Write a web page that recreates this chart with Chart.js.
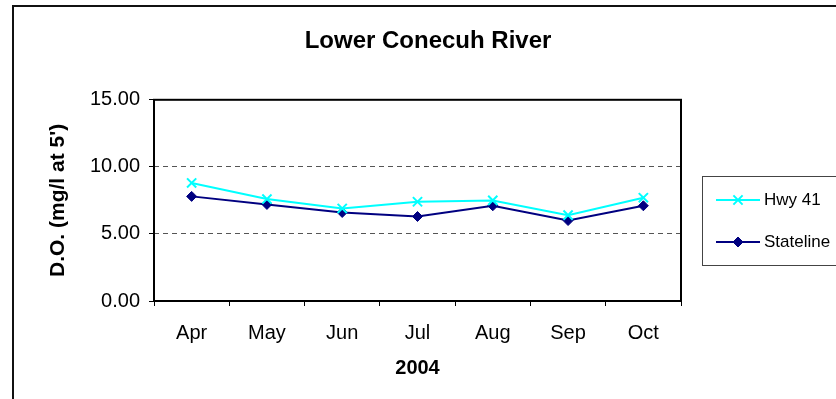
<!DOCTYPE html>
<html>
<head>
<meta charset="utf-8">
<title>Lower Conecuh River</title>
<script src="https://cdn.jsdelivr.net/npm/chart.js@4.4.1/dist/chart.umd.min.js"></script>
<style>
  html, body { margin: 0; padding: 0; background: #fff; }
  #wrap { width: 836px; height: 399px; position: relative; }
</style>
</head>
<body>
<div id="wrap"><canvas id="c" width="836" height="399"></canvas></div>
<script>
// Dissolved oxygen at 5 ft depth, 2004 sampling season
const months = ['Apr', 'May', 'Jun', 'Jul', 'Aug', 'Sep', 'Oct'];
const hwy41 = [8.8, 7.6, 6.9, 7.4, 7.5, 6.4, 7.7];
const stateline = [7.8, 7.2, 6.6, 6.3, 7.1, 6.0, 7.1];
const seriesNames = ['Hwy 41', 'Stateline'];
const yTickValues = [0, 5, 10, 15];

const FONT = "'Liberation Sans', Arial, sans-serif";

// Outer frame, plot frame and the boxed legend
const decorations = {
  id: 'decorations',
  beforeDatasetsDraw(chart) {
    const { ctx, chartArea: a } = chart;
    ctx.save();
    ctx.strokeStyle = '#000';
    ctx.lineWidth = 2;
    ctx.strokeRect(a.left, a.top, a.right - a.left, a.bottom - a.top);
    ctx.restore();
  },
  afterDraw(chart) {
    const { ctx } = chart;
    ctx.save();
    // outer chart border
    ctx.strokeStyle = '#111';
    ctx.lineWidth = 2;
    ctx.strokeRect(13, 6, 900, 500);

    // legend box
    ctx.strokeStyle = '#444';
    ctx.lineWidth = 1;
    ctx.strokeRect(702.5, 176.5, 200, 89);

    const rows = [200, 242];
    chart.data.datasets.forEach((ds, i) => {
      const y = rows[i];
      ctx.strokeStyle = ds.borderColor;
      ctx.lineWidth = ds.borderWidth;
      ctx.beginPath();
      ctx.moveTo(716, y);
      ctx.lineTo(760, y);
      ctx.stroke();

      ctx.fillStyle = ds.pointBackgroundColor;
      ctx.strokeStyle = ds.pointBorderColor;
      ctx.lineWidth = ds.pointBorderWidth;
      Chart.helpers.drawPoint(ctx, {
        pointStyle: ds.pointStyle,
        radius: ds.pointRadius,
        borderWidth: ds.pointBorderWidth
      }, 738, y);

      ctx.fillStyle = '#000';
      ctx.font = '17px ' + FONT;
      ctx.textBaseline = 'middle';
      ctx.textAlign = 'left';
      ctx.fillText(ds.label, 764, y);
    });
    ctx.restore();
  }
};

new Chart(document.getElementById('c'), {
  type: 'line',
  data: {
    labels: months,
    datasets: [
      {
        label: seriesNames[0],
        data: hwy41,
        borderColor: '#00FFFF',
        backgroundColor: '#00FFFF',
        borderWidth: 2,
        pointStyle: 'crossRot',
        pointRadius: 6.5,
        pointBorderWidth: 2,
        pointBorderColor: '#00FFFF',
        pointBackgroundColor: '#00FFFF',
        tension: 0,
        yAxisID: 'y'
      },
      {
        label: seriesNames[1],
        data: stateline,
        borderColor: '#000080',
        backgroundColor: '#000080',
        borderWidth: 2,
        pointStyle: 'rectRot',
        pointRadius: 5,
        pointBorderWidth: 1,
        pointBorderColor: '#000080',
        pointBackgroundColor: '#000080',
        tension: 0,
        yAxisID: 'y'
      }
    ]
  },
  options: {
    responsive: false,
    animation: false,
    events: [],
    layout: { padding: { left: 20, right: 0, top: 0, bottom: 0 } },
    plugins: {
      legend: { display: false },
      tooltip: { enabled: false },
      title: {
        display: true,
        text: 'Lower Conecuh River',
        color: '#000',
        font: { family: FONT, size: 24, weight: 'bold' },
        padding: { top: 27, bottom: 44 }
      }
    },
    scales: {
      x: {
        type: 'category',
        offset: true,
        grid: {
          offset: true,
          drawOnChartArea: false,
          drawTicks: true,
          tickLength: 5,
          tickColor: '#000',
          tickWidth: 1
        },
        border: { display: false },
        ticks: {
          color: '#000',
          font: { family: FONT, size: 20 },
          padding: 15,
          maxRotation: 0
        },
        title: {
          display: true,
          text: '2004',
          color: '#000',
          font: { family: FONT, size: 20, weight: 'bold' },
          padding: { top: 0, bottom: 19 }
        },
        afterFit(s) { s.height = 98; }
      },
      y: {
        type: 'linear',
        position: 'left',
        min: 0,
        max: 15,
        afterBuildTicks(s) { s.ticks = yTickValues.map(v => ({ value: v })); },
        grid: {
          color: (c) => (c.tick && (c.tick.value === 0 || c.tick.value === 15)) ? 'rgba(0,0,0,0)' : '#555',
          lineWidth: 1,
          drawTicks: true,
          tickLength: 5,
          tickColor: '#000',
          tickWidth: 1,
          tickBorderDash: []
        },
        border: { display: false, dash: [5, 4] },
        ticks: {
          color: '#000',
          font: { family: FONT, size: 20 },
          padding: 9,
          callback: (v) => Number(v).toFixed(2)
        },
        title: {
          display: true,
          text: "D.O. (mg/l at 5')",
          color: '#000',
          font: { family: FONT, size: 21, weight: 'bold' },
          padding: { top: 26, bottom: 0 }
        },
        afterFit(s) { s.width = 134; }
      },
      yRight: {
        type: 'linear',
        position: 'right',
        display: true,
        grid: { display: false, drawTicks: false },
        border: { display: false },
        ticks: { display: false },
        afterFit(s) { s.width = 155; }
      }
    }
  },
  plugins: [decorations]
});
</script>
</body>
</html>
